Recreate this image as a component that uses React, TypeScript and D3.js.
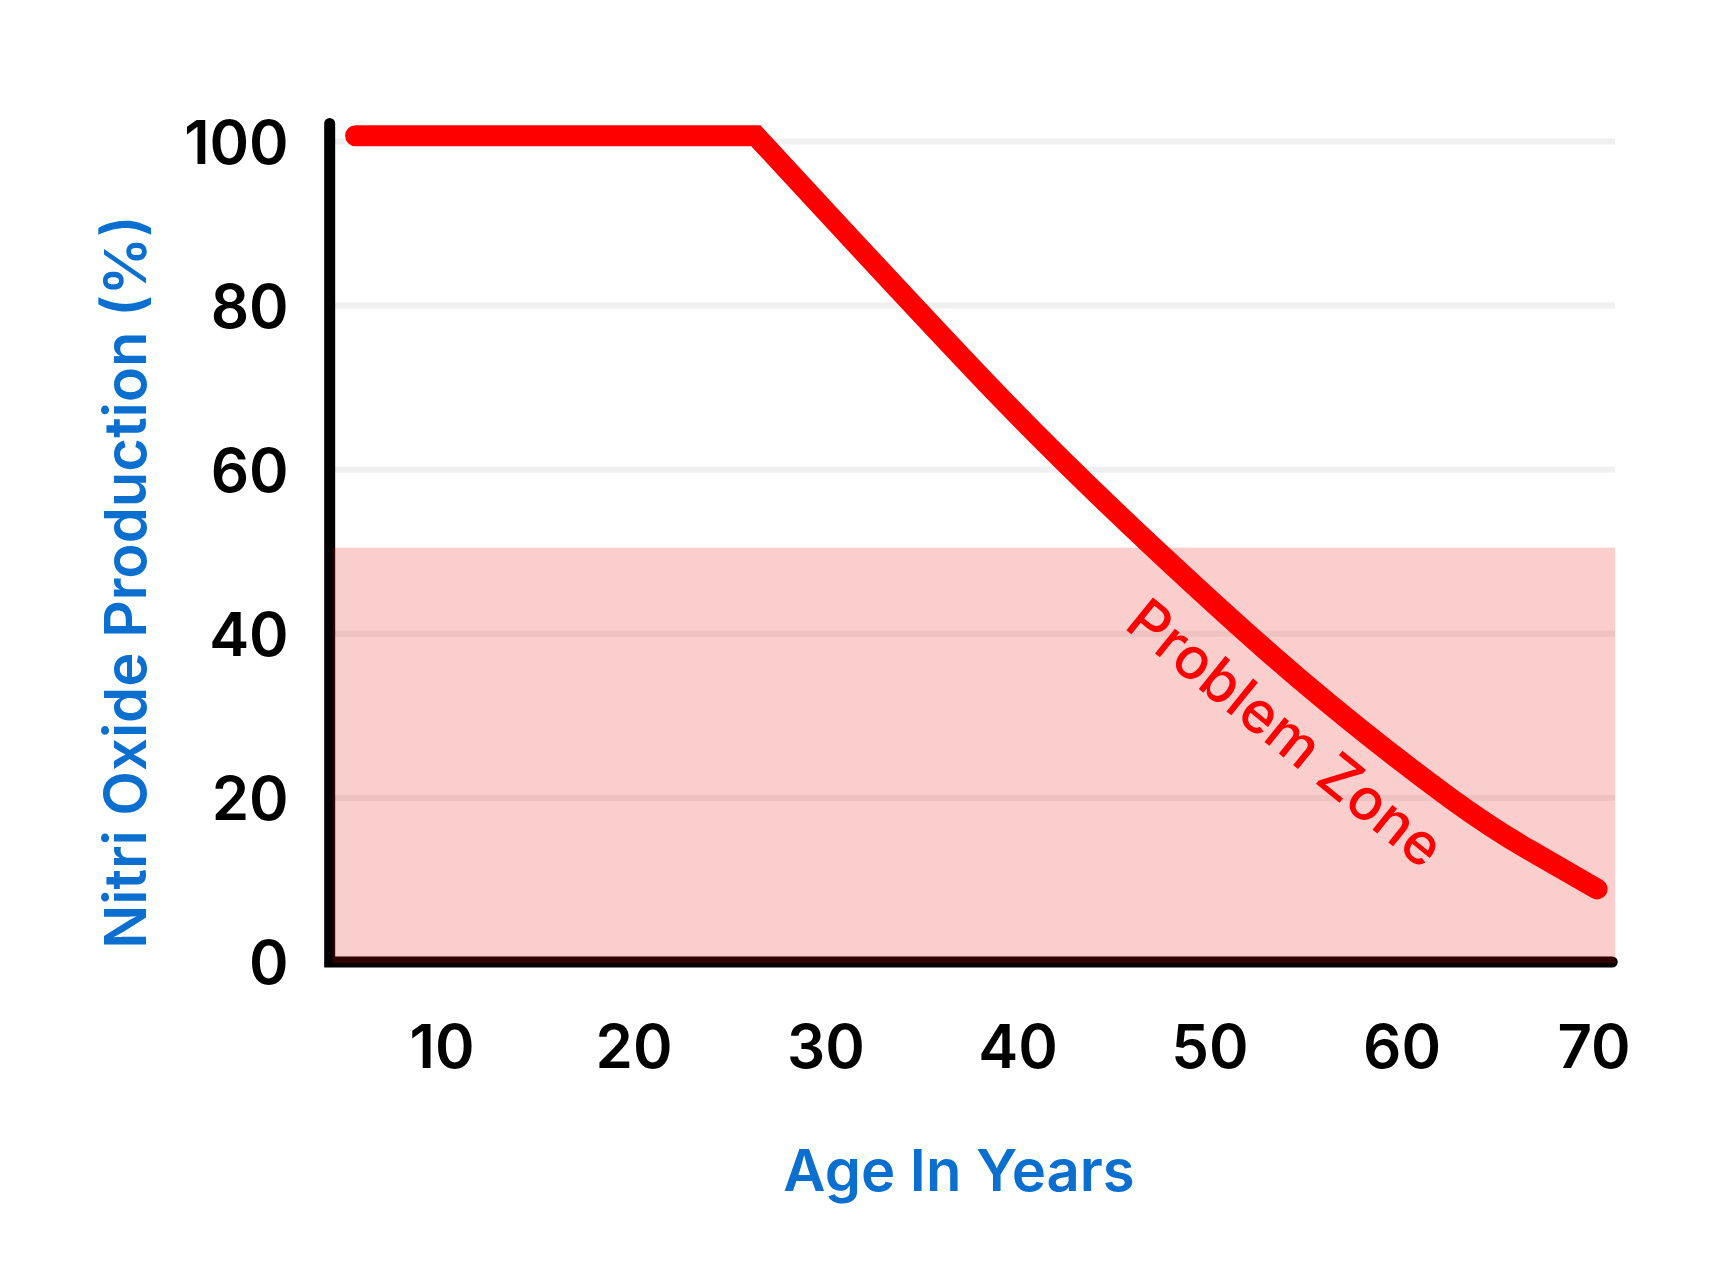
import * as d3 from 'd3'

const W = 1709
const H = 1268

// red curve (age in years, NO production %)
const AGES = [5.5, 26.35, 39.06, 47.14, 54.69, 62.5, 66.67, 70.16]
const NO_PCT = [100.7, 100.7, 68.86, 50.34, 34.43, 20.0, 13.6, 8.9]
const PLATEAU_END = 1

const X_TICKS = [10, 20, 30, 40, 50, 60, 70]
const Y_TICKS = [0, 20, 40, 60, 80, 100]
const GRID_TICKS = [20, 40, 60, 80, 100]

// problem zone band
const ZONE_PCT = [0, 50.5]
const ZONE_AGES = [4.3, 71.1]

// axis extents
const AXIS_AGES = [4.15, 70.95]
const AXIS_TOP = 102.2

const LABEL = { text: 'Problem Zone', age: 53.96, pct: 27.97, angle: 39 }

const BLUE = '#0a6fce'
const RED = '#ff0000'
const FONT = 'Inter, "Noto Sans", sans-serif'

export default function App() {
  const x = d3.scaleLinear().domain([0, 70]).range([250, 1594])
  const y = d3.scaleLinear().domain([0, 100]).range([962, 141.5])

  const pts: [number, number][] = AGES.map((a, i) => [x(a), y(NO_PCT[i])])

  // flat plateau with a sharp corner, then a smooth decline
  const flat = d3.line()(pts.slice(0, PLATEAU_END + 1)) || ''
  const desc = d3.line().curve(d3.curveNatural)(pts.slice(PLATEAU_END)) || ''
  const curveD = flat + desc.replace(/^M[^A-Za-z]+/, '')

  const axisD =
    d3.line()([
      [x(AXIS_AGES[0]), y(AXIS_TOP)],
      [x(AXIS_AGES[0]), y(0)],
      [x(AXIS_AGES[1]), y(0)],
    ]) || ''

  const lx = x(LABEL.age)
  const ly = y(LABEL.pct)

  return (
    <svg
      width={W}
      height={H}
      viewBox={`0 0 ${W} ${H}`}
      style={{ position: 'absolute', left: 0, top: 0, background: '#fff' }}
    >
      <rect width={W} height={H} fill="#fff" />

      {/* gridlines */}
      {GRID_TICKS.map((t) => (
        <line
          key={`g${t}`}
          x1={x(AXIS_AGES[0])}
          x2={x(ZONE_AGES[1])}
          y1={y(t)}
          y2={y(t)}
          stroke="#f0f0f0"
          strokeWidth={6}
        />
      ))}

      {/* axes */}
      <path
        d={axisD}
        fill="none"
        stroke="#000"
        strokeWidth={11}
        strokeLinecap="round"
        strokeLinejoin="miter"
      />

      {/* problem zone */}
      <rect
        x={x(ZONE_AGES[0])}
        y={y(ZONE_PCT[1])}
        width={x(ZONE_AGES[1]) - x(ZONE_AGES[0])}
        height={y(ZONE_PCT[0]) - y(ZONE_PCT[1]) + 1}
        fill="rgb(232,10,0)"
        fillOpacity={0.2}
      />

      {/* NO curve */}
      <path
        d={curveD}
        fill="none"
        stroke={RED}
        strokeWidth={21}
        strokeLinecap="round"
        strokeLinejoin="miter"
      />

      <text
        x={lx}
        y={ly}
        transform={`rotate(${LABEL.angle},${lx},${ly})`}
        textAnchor="middle"
        dominantBaseline="central"
        fill={RED}
        fontFamily={FONT}
        fontWeight={500}
        fontSize={58}
      >
        {LABEL.text}
      </text>

      {/* tick labels */}
      {Y_TICKS.map((t) => (
        <text
          key={`y${t}`}
          x={x(AXIS_AGES[0]) - 41}
          y={y(t)}
          textAnchor="end"
          dominantBaseline="central"
          fontFamily={FONT}
          fontWeight={600}
          fontSize={60}
          fill="#000"
        >
          {t}
        </text>
      ))}
      {X_TICKS.map((t) => (
        <text
          key={`x${t}`}
          x={x(t)}
          y={y(0) + 84}
          textAnchor="middle"
          dominantBaseline="central"
          fontFamily={FONT}
          fontWeight={600}
          fontSize={60}
          fill="#000"
        >
          {t}
        </text>
      ))}

      {/* axis titles */}
      <text
        x={959}
        y={1191}
        textAnchor="middle"
        fontFamily={FONT}
        fontWeight={600}
        fontSize={58}
        fill={BLUE}
      >
        Age In Years
      </text>
      <text
        transform="translate(146,582) rotate(-90)"
        textAnchor="middle"
        fontFamily={FONT}
        fontWeight={600}
        fontSize={58}
        fill={BLUE}
      >
        Nitri Oxide Production (%)
      </text>
    </svg>
  )
}
